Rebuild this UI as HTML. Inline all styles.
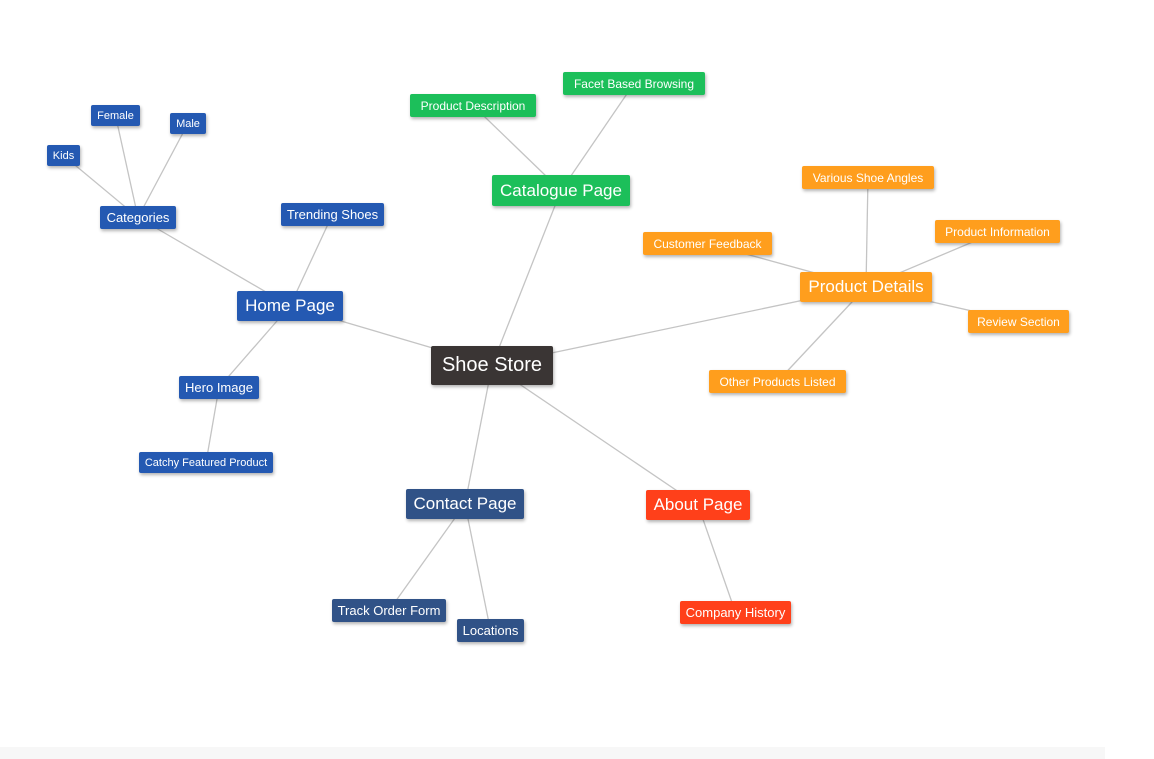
<!DOCTYPE html>
<html><head><meta charset="utf-8"><style>
body{margin:0;background:#fff;width:1154px;height:759px;overflow:hidden;font-family:"Liberation Sans",sans-serif;position:relative}
.n{position:absolute;color:#fff;display:flex;align-items:center;justify-content:center;border-radius:2px;box-shadow:1px 2px 3px rgba(0,0,0,.3);white-space:nowrap}
svg{position:absolute;left:0;top:0}
#band{position:absolute;left:0;top:747px;width:1105px;height:12px;background:#f7f7f7}
</style></head><body>
<svg id="edges" width="1154" height="759"></svg>
<div id="band"></div>
<div id="map"></div>
<script>
const nodeLabels=["Shoe Store","Home Page","Categories","Kids","Female","Male","Trending Shoes","Hero Image","Catchy Featured Product","Catalogue Page","Product Description","Facet Based Browsing","Product Details","Various Shoe Angles","Customer Feedback","Product Information","Review Section","Other Products Listed","Contact Page","Track Order Form","Locations","About Page","Company History"];
const nodeParents=[-1,0,1,2,2,2,1,1,7,0,9,9,0,12,12,12,12,12,0,18,18,0,21];
const nodeBoxes=[[431,346,553,385],[237,291,343,321],[100,206,176,229],[47,145,80,166],[91,105,140,126],[170,113,206,134],[281,203,384,226],[179,376,259,399],[139,452,273,473],[492,175,630,206],[410,94,536,117],[563,72,705,95],[800,272,932,302],[802,166,934,189],[643,232,772,255],[935,220,1060,243],[968,310,1069,333],[709,370,846,393],[406,489,524,519],[332,599,446,622],[457,619,524,642],[646,490,750,520],[680,601,791,624]];
const nodeFont=[20,17,13,11,11,11,13,13,11,17,12,12,17,12,12,12,12,12,17,13,13,17,13];
const nodeColor=["#3a3534","#2459b2","#2459b2","#2459b2","#2459b2","#2459b2","#2459b2","#2459b2","#2459b2","#1cbf5a","#1cbf5a","#1cbf5a","#ff9e1d","#ff9e1d","#ff9e1d","#ff9e1d","#ff9e1d","#ff9e1d","#305287","#305287","#305287","#ff401a","#ff401a"];
const svg=document.getElementById('edges'),map=document.getElementById('map');
const cx=i=>(nodeBoxes[i][0]+nodeBoxes[i][2])/2, cy=i=>(nodeBoxes[i][1]+nodeBoxes[i][3])/2;
nodeLabels.forEach((t,i)=>{
 const p=nodeParents[i];
 if(p>=0){
  const l=document.createElementNS('http://www.w3.org/2000/svg','line');
  
  
  l.setAttribute('x1',cx(p));l.setAttribute('y1',cy(p));l.setAttribute('x2',cx(i));l.setAttribute('y2',cy(i));
  l.setAttribute('stroke','#c4c4c4');l.setAttribute('stroke-width','1.3');
  svg.appendChild(l);
 }
 const b=nodeBoxes[i],d=document.createElement('div');
 d.className='n';
 
 
 d.style.left=b[0]+'px';d.style.top=b[1]+'px';d.style.width=(b[2]-b[0])+'px';d.style.height=(b[3]-b[1])+'px';
 d.style.background=nodeColor[i];d.style.fontSize=nodeFont[i]+'px';
 d.textContent=t;map.appendChild(d);
});
</script>
</body></html>
